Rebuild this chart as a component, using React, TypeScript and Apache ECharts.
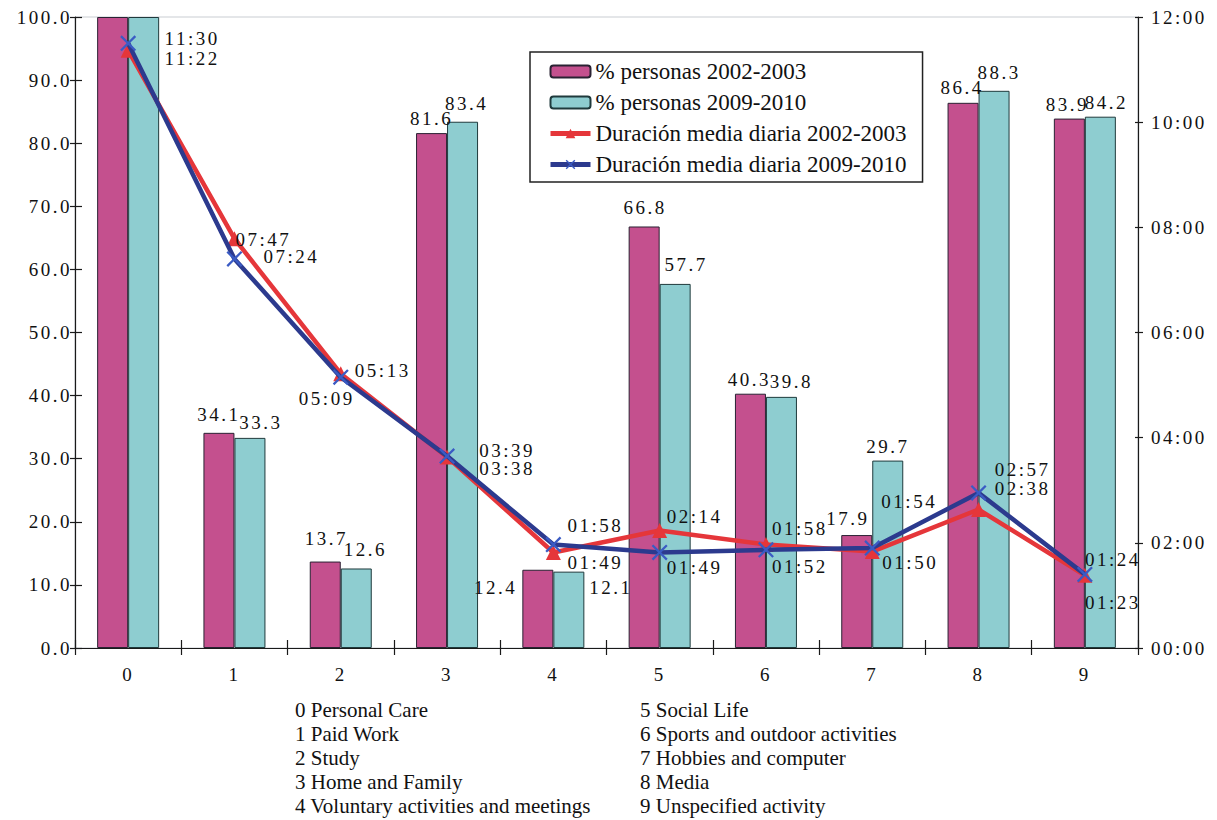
import React, { useEffect, useRef } from 'react';
import * as echarts from 'echarts';

// Activity groups (category codes on the x axis) and their names
const categories = ['0', '1', '2', '3', '4', '5', '6', '7', '8', '9'];
const activityNamesLeft = [
  '0 Personal Care',
  '1 Paid Work',
  '2 Study',
  '3 Home and Family',
  '4 Voluntary activities and meetings',
];
const activityNamesRight = [
  '5 Social Life',
  '6 Sports and outdoor activities',
  '7 Hobbies and computer',
  '8 Media',
  '9 Unspecified activity',
];

// Share of persons doing each activity (%)
const pct2002 = [100, 34.1, 13.7, 81.6, 12.4, 66.8, 40.3, 17.9, 86.4, 83.9];
const pct2009 = [100, 33.3, 12.6, 83.4, 12.1, 57.7, 39.8, 29.7, 88.3, 84.2];

// Mean daily duration (hh:mm)
const dur2002 = ['11:22', '07:47', '05:13', '03:38', '01:49', '02:14', '01:58', '01:50', '02:38', '01:23'];
const dur2009 = ['11:30', '07:24', '05:09', '03:39', '01:58', '01:49', '01:52', '01:54', '02:57', '01:24'];

const seriesNames = [
  '% personas 2002-2003',
  '% personas 2009-2010',
  'Duración media diaria 2002-2003',
  'Duración media diaria 2009-2010',
];

// Label placement per point
type LabelPlace = { position?: string; offset: number[] } | null;
const pct2002Place: LabelPlace[] = [
  null,
  { offset: [0, -4] },
  { offset: [1, -9] },
  { offset: [0, 0] },
  { position: 'left', offset: [0, -21] },
  { offset: [1, -4] },
  { offset: [-1, 0] },
  { offset: [-9, -2] },
  { offset: [-1, -1] },
  { offset: [-2, 0] },
];
const pct2009Place: LabelPlace[] = [
  null,
  { offset: [11, -1] },
  { offset: [9, -4] },
  { offset: [4, -4] },
  { position: 'right', offset: [0, -22] },
  { offset: [11, -5] },
  { offset: [10, -1] },
  { offset: [0, 0] },
  { offset: [5, -4] },
  { offset: [6, 0] },
];
const dur2002Offset = [[64, 8], [29, 1], [42, -3], [60, 12], [42, 10], [35, -14], [34, -16], [38, 11], [44, -21], [28, 27]];
const dur2009Offset = [[64, -5], [57, -2], [-14, 21], [60, -6], [42, -19], [35, 15], [34, 17], [37, -47], [44, -23], [28, -15]];

const toMinutes = (s: string) => {
  const [h, m] = s.split(':').map(Number);
  return h * 60 + m;
};
const pad = (n: number) => (n < 10 ? '0' + n : '' + n);
const fmtMinutes = (v: number) => pad(Math.floor(v / 60)) + ':' + pad(Math.round(v % 60));

const FONT = 'Liberation Serif';
const MAGENTA = '#C4508E';
const TEAL = '#8ECDD0';
const RED = '#E5363A';
const NAVY = '#2C3A8E';
const XMARK = 'path://M0,1 L1,0 L5,4 L9,0 L10,1 L6,5 L10,9 L9,10 L5,6 L1,10 L0,9 L4,5 Z';

const labelText = { fontFamily: FONT, fontSize: 19, color: '#111' };

function barData(values: number[], places: LabelPlace[]) {
  return values.map((v, i) => {
    const p = places[i];
    if (!p) return { value: v, label: { show: false } };
    return {
      value: v,
      label: {
        show: true,
        position: p.position || 'top',
        distance: 5,
        offset: p.offset,
        ...labelText,
      },
    };
  });
}

function lineData(values: string[], offsets: number[][]) {
  return values.map((s, i) => ({
    value: toMinutes(s),
    label: {
      show: true,
      position: 'inside',
      offset: offsets[i],
      formatter: s,
      ...labelText,
    },
  }));
}

export default function App() {
  const ref = useRef<HTMLDivElement>(null);

  useEffect(() => {
    if (!ref.current) return;
    const chart = echarts.init(ref.current, null, { renderer: 'svg' });

    const axisLineStyle = { color: '#1a1a1a', width: 1.2 };

    chart.setOption({
      animation: false,
      backgroundColor: '#ffffff',
      textStyle: { fontFamily: FONT },
      grid: {
        left: 75,
        right: 79,
        top: 17,
        bottom: 172,
        show: true,
        borderColor: '#c9cdd2',
        borderWidth: 1,
        backgroundColor: 'transparent',
      },
      legend: {
        data: seriesNames,
        orient: 'vertical',
        left: 530,
        top: 52,
        padding: [8, 16, 6, 18],
        itemGap: 8,
        itemWidth: 40,
        itemHeight: 12,
        borderColor: '#222',
        borderWidth: 1.5,
        backgroundColor: '#fff',
        lineStyle: { width: 5 },
        textStyle: { fontFamily: FONT, fontSize: 23, color: '#111', lineHeight: 23 },
      },
      xAxis: [
        {
          type: 'category',
          data: categories,
          position: 'bottom',
          axisLine: { lineStyle: axisLineStyle },
          axisTick: { show: true, length: 7, lineStyle: axisLineStyle },
          axisLabel: { interval: 0, margin: 17, ...labelText },
        },
        {
          type: 'category',
          data: categories,
          position: 'bottom',
          axisLine: { show: false },
          axisTick: { show: true, inside: true, length: 8, lineStyle: axisLineStyle },
          axisLabel: { show: false },
        },
      ],
      yAxis: [
        {
          type: 'value',
          position: 'left',
          min: 0,
          max: 100,
          interval: 10,
          axisLine: { show: true, lineStyle: axisLineStyle },
          axisTick: { show: true, length: 5, lineStyle: axisLineStyle },
          splitLine: { show: false },
          axisLabel: { margin: 3, formatter: (v: number) => v.toFixed(1), ...labelText },
        },
        {
          type: 'value',
          position: 'right',
          min: 0,
          max: 720,
          interval: 120,
          axisLine: { show: true, lineStyle: axisLineStyle },
          axisTick: { show: true, length: 5, lineStyle: axisLineStyle },
          splitLine: { show: false },
          axisLabel: { margin: 13, formatter: (v: number) => fmtMinutes(v), ...labelText },
        },
        {
          type: 'value',
          position: 'left',
          min: 0,
          max: 100,
          interval: 10,
          axisLine: { show: false },
          axisTick: { show: true, inside: true, length: 7, lineStyle: axisLineStyle },
          splitLine: { show: false },
          axisLabel: { show: false },
        },
        {
          type: 'value',
          position: 'right',
          min: 0,
          max: 720,
          interval: 120,
          axisLine: { show: false },
          axisTick: { show: true, inside: true, length: 3, lineStyle: axisLineStyle },
          splitLine: { show: false },
          axisLabel: { show: false },
        },
      ],
      series: [
        {
          name: seriesNames[0],
          type: 'bar',
          yAxisIndex: 0,
          barWidth: 31,
          barGap: '0%',
          itemStyle: { color: MAGENTA, borderColor: '#2a2233', borderWidth: 1 },
          data: barData(pct2002, pct2002Place),
        },
        {
          name: seriesNames[1],
          type: 'bar',
          yAxisIndex: 0,
          barWidth: 31,
          barGap: '0%',
          itemStyle: { color: TEAL, borderColor: '#1f3a3c', borderWidth: 1 },
          data: barData(pct2009, pct2009Place),
        },
        {
          name: seriesNames[2],
          type: 'line',
          yAxisIndex: 1,
          symbol: 'triangle',
          symbolSize: 15,
          lineStyle: { color: RED, width: 4.5 },
          itemStyle: { color: RED },
          z: 3,
          data: lineData(dur2002, dur2002Offset),
        },
        {
          name: seriesNames[3],
          type: 'line',
          yAxisIndex: 1,
          symbol: XMARK,
          symbolSize: 16,
          lineStyle: { color: NAVY, width: 4.5 },
          itemStyle: { color: '#3A5BC4' },
          z: 4,
          data: lineData(dur2009, dur2009Offset),
        },
      ],
      graphic: [
        {
          type: 'text',
          left: 295,
          top: 698,
          style: {
            text: activityNamesLeft.join('\n'),
            fontFamily: FONT,
            fontSize: 21,
            lineHeight: 24,
            fill: '#111',
          },
        },
        {
          type: 'text',
          left: 640,
          top: 698,
          style: {
            text: activityNamesRight.join('\n'),
            fontFamily: FONT,
            fontSize: 21,
            lineHeight: 24,
            fill: '#111',
          },
        },
      ],
    });

    return () => chart.dispose();
  }, []);

  return (
    <>
      <style>{`#root text[style*="19px"]{letter-spacing:2.5px}`}</style>
      <div
        ref={ref}
        style={{ position: 'fixed', left: 0, top: 0, width: 1217, height: 820, background: '#fff' }}
      />
    </>
  );
}
